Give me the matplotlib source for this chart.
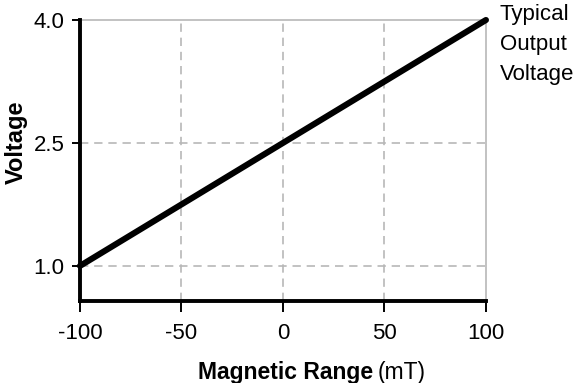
import matplotlib
matplotlib.use('Agg')
import matplotlib.pyplot as plt

# Typical sensor output: voltage vs. magnetic field
field_mt = [-100, 100]
output_v = [1.0, 4.0]

x_ticks = [-100, -50, 0, 50, 100]
y_ticks = [1.0, 2.5, 4.0]
x_grid = [-50, 0, 50]
y_grid = [1.0, 2.5]

plt.rcParams['font.family'] = ['Liberation Sans', 'DejaVu Sans']

fig = plt.figure(figsize=(5.77, 3.83), dpi=100)
ax = fig.add_axes([0.1386, 0.2154, 0.7036, 0.7324])

grid_color = '#b8b8b8'
for gx in x_grid:
    ax.axvline(gx, color=grid_color, lw=1.2, ls=(0, (5, 3.5)), zorder=1)
for gy in y_grid:
    ax.axhline(gy, color=grid_color, lw=1.2, ls=(0, (5, 3.5)), zorder=1)

ax.plot(field_mt, output_v, color='black', lw=4.4, solid_capstyle='round',
        clip_on=False, zorder=5)

ax.set_xlim(-100, 100)
ax.set_ylim(0.578, 4.0)
ax.set_xticks(x_ticks)
ax.set_xticklabels([str(v) for v in x_ticks])
ax.set_yticks(y_ticks)
ax.set_yticklabels(['%.1f' % v for v in y_ticks])

ax.spines['left'].set_linewidth(2.8)
ax.spines['bottom'].set_linewidth(2.8)
ax.spines['left'].set_zorder(6)
ax.spines['bottom'].set_zorder(6)
for side in ['top', 'right']:
    ax.spines[side].set_color(grid_color)
    ax.spines[side].set_linewidth(1.2)

ax.tick_params(axis='x', direction='out', length=8, width=1.4, pad=8,
               labelsize=16, colors='black')
ax.tick_params(axis='y', direction='out', length=6, width=1.4, pad=5,
               labelsize=16, colors='black')

# axis titles
fig.text(16 / 577, 1 - 142 / 383, 'Voltage', rotation=90, fontsize=17,
         fontweight='bold', ha='center', va='center')
fig.text(373 / 577, 1 - 379 / 383, 'Magnetic Range', fontsize=16.5,
         fontweight='bold', ha='right', va='baseline')
fig.text(378 / 577, 1 - 379 / 383, '(mT)', fontsize=16.5,
         ha='left', va='baseline')

fig.text(500 / 577, 1 - 4 / 383, 'Typical\nOutput\nVoltage', fontsize=16,
         ha='left', va='top', linespacing=1.55)

fig.savefig('out.png', dpi=100)
